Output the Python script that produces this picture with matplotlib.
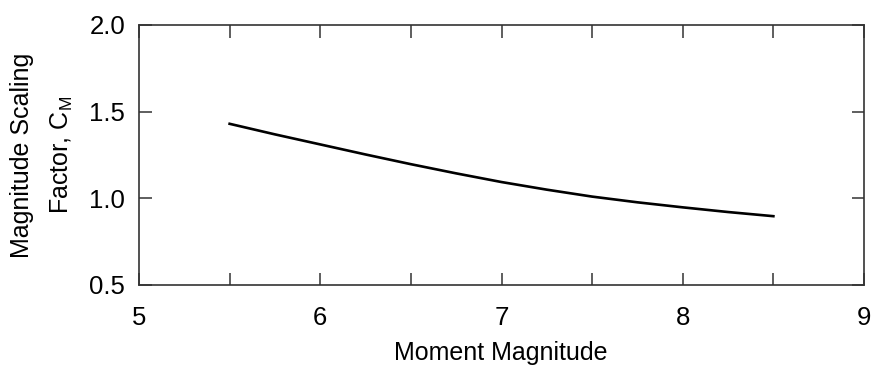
import matplotlib
matplotlib.use("Agg")
import matplotlib.pyplot as plt
import numpy as np

# moment magnitude vs magnitude scaling factor
magnitude = [5.5, 5.75, 6.0, 6.25, 6.5, 6.75, 7.0, 7.25, 7.5, 7.75, 8.0, 8.25, 8.5]
c_m = [1.430, 1.369, 1.311, 1.253, 1.197, 1.144, 1.094, 1.050, 1.010, 0.977, 0.948, 0.921, 0.897]

x_ticks = [5, 6, 7, 8, 9]
y_ticks = [0.5, 1.0, 1.5, 2.0]

plt.rcParams['font.family'] = ['Liberation Sans', 'DejaVu Sans']
plt.rcParams['mathtext.fontset'] = 'custom'
plt.rcParams['mathtext.rm'] = 'Liberation Sans'
plt.rcParams['mathtext.it'] = 'Liberation Sans'

W, H = 871, 365
fig = plt.figure(figsize=(W / 100, H / 100), dpi=100)
ax = fig.add_axes([139 / W, 1 - 285 / H, (864 - 139) / W, (285 - 25) / H])

ax.plot(magnitude, c_m, color='black', linewidth=1.9, solid_joinstyle='round')

ax.set_xlim(5, 9)
ax.set_ylim(0.5, 2.0)
ax.set_xticks(x_ticks)
ax.set_xticks(np.arange(5.5, 9, 1.0), minor=True)
ax.set_yticks(y_ticks)
ax.set_xticklabels([str(v) for v in x_ticks])
ax.set_yticklabels(['%.1f' % v for v in y_ticks])

ax.tick_params(which='both', direction='in', top=True, right=True,
               length=9, width=1.1, color='#333333', labelsize=18.5)
ax.tick_params(axis='x', pad=15)
ax.tick_params(axis='y', pad=10)
for s in ax.spines.values():
    s.set_color('#333333')
    s.set_linewidth(1.2)

fig.text(501 / W, 1 - 353 / H, 'Moment Magnitude', ha='center', va='center', fontsize=18)
fig.text(22 / W, 1 - 155 / H, 'Magnitude Scaling', ha='center', va='center',
         rotation=90, fontsize=18)
fig.text(62 / W, 1 - 155 / H, 'Factor, C$_\\mathregular{M}$', ha='center', va='center',
         rotation=90, fontsize=18)

fig.savefig('out.png', dpi=100)
